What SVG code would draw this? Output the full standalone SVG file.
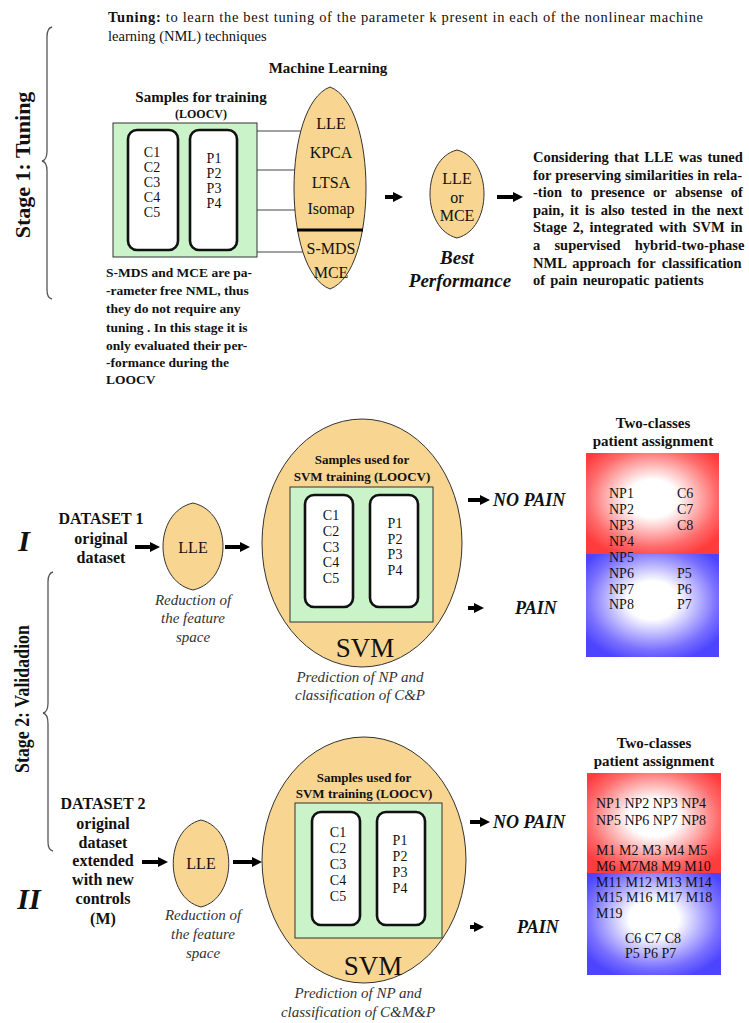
<svg xmlns="http://www.w3.org/2000/svg" width="749" height="1023" viewBox="0 0 749 1023">
  <defs>
    <style>
      text { font-family: "Liberation Serif", "Times New Roman", serif; fill: #111; }
      .b { font-weight: bold; }
      .bi { font-weight: bold; font-style: italic; }
      .it { font-style: italic; fill: #333; }
      .c { text-anchor: middle; dominant-baseline: central; }
      .l { dominant-baseline: central; }
      .lemon { fill: #f8d590; stroke: #333; stroke-width: 1; }
      .green { fill: #caf3ca; stroke: #333; stroke-width: 1; }
      .sample { fill: #fff; stroke: #111; stroke-width: 2.6; }
      .brace { fill: none; stroke: #555; stroke-width: 1.3; }
      .wire { stroke: #444; stroke-width: 1; }
      .arrow { stroke: #000; stroke-width: 4; marker-end: url(#head); }
      .cell { font-size: 14px; fill: #2b2b38; }
      .lbl { font-size: 16px; }
    </style>
    <marker id="head" viewBox="0 0 10 10" markerUnits="userSpaceOnUse" markerWidth="10" markerHeight="11" refX="2" refY="5" orient="auto">
      <path d="M0,0 L10,5 L0,10 Z" fill="#000"/>
    </marker>
    <radialGradient id="redGlow" cx="0.5" cy="0.45" r="0.62">
      <stop offset="0" stop-color="#ffffff"/>
      <stop offset="0.3" stop-color="#ffffff"/>
      <stop offset="0.78" stop-color="#ff6a6a"/>
      <stop offset="1" stop-color="#ff3c3c"/>
    </radialGradient>
    <radialGradient id="blueGlow" cx="0.5" cy="0.45" r="0.62">
      <stop offset="0" stop-color="#ffffff"/>
      <stop offset="0.3" stop-color="#ffffff"/>
      <stop offset="0.78" stop-color="#7a70ff"/>
      <stop offset="1" stop-color="#4c44ff"/>
    </radialGradient>
  </defs>

  <rect width="749" height="1023" fill="#fff"/>

  <!-- stage braces and labels -->
  <g id="stage1-label">
    <path class="brace" d="M52,27 Q47,28 47,37 L47,151 Q47,160 42,161 Q47,162 47,171 L47,290 Q47,298 52,299"/>
    <text class="b c" font-size="22" transform="translate(22,165) rotate(-90)">Stage 1: Tuning</text>
  </g>
  <g id="stage2-label">
    <path class="brace" d="M53,572 Q48,573 48,582 L48,703 Q48,712 43,713 Q48,714 48,724 L48,842 Q48,850 53,851"/>
    <text class="b c" font-size="21" textLength="148" lengthAdjust="spacingAndGlyphs" transform="translate(22,699) rotate(-90)">Stage 2: Validadion</text>
  </g>

  <!-- heading -->
  <g id="heading">
    <text x="108" y="22" font-size="14.5" textLength="595" lengthAdjust="spacing"><tspan class="b">Tuning:</tspan> to learn the best tuning of  the parameter k present in each of the nonlinear machine</text>
    <text x="108" y="41" font-size="14.5">learning (NML) techniques</text>
  </g>

  <!-- connectors -->
  <g id="connectors">
    <line class="wire" x1="257" y1="131" x2="320" y2="131"/>
    <line class="wire" x1="257" y1="170" x2="320" y2="170"/>
    <line class="wire" x1="257" y1="210" x2="320" y2="210"/>
    <line class="wire" x1="257" y1="252" x2="320" y2="252"/>
    <line class="arrow" x1="385" y1="197" x2="395" y2="197"/>
    <line class="arrow" x1="497" y1="197" x2="515" y2="197"/>
    <line class="arrow" x1="135" y1="547" x2="152" y2="547"/>
    <line class="arrow" x1="225" y1="547" x2="242" y2="547"/>
    <line class="arrow" x1="468" y1="500" x2="482" y2="500"/>
    <line class="arrow" x1="468" y1="608" x2="476" y2="608"/>
    <line class="arrow" x1="142" y1="862" x2="160" y2="862"/>
    <line class="arrow" x1="233" y1="862" x2="254" y2="862"/>
    <line class="arrow" x1="470" y1="822" x2="482" y2="822"/>
    <line class="arrow" x1="470" y1="927" x2="476" y2="927"/>
  </g>

  <!-- stage 1 training samples -->
  <g id="samples-training">
    <text class="b c" x="201" y="97" font-size="15">Samples for training</text>
    <text class="b c" x="201" y="114" font-size="12">(LOOCV)</text>
    <rect class="green" x="113" y="123" width="144" height="134"/>
    <rect class="sample" x="128" y="130" width="50" height="120" rx="9"/>
    <rect class="sample" x="190" y="130" width="47" height="120" rx="9"/>
    <g class="cell">
      <text class="c" x="152" y="152">C1</text>
      <text class="c" x="152" y="167">C2</text>
      <text class="c" x="152" y="182">C3</text>
      <text class="c" x="152" y="197">C4</text>
      <text class="c" x="152" y="212">C5</text>
      <text class="c" x="214" y="158">P1</text>
      <text class="c" x="214" y="173">P2</text>
      <text class="c" x="214" y="188">P3</text>
      <text class="c" x="214" y="203">P4</text>
    </g>
  </g>

  <g id="note-parameter-free" class="b" font-size="13.5">
    <text class="l" x="106" y="272">S-MDS and MCE are pa-</text>
    <text class="l" x="106" y="290">-rameter free NML, thus</text>
    <text class="l" x="106" y="308">they do not require any</text>
    <text class="l" x="106" y="327">tuning . In this stage it is</text>
    <text class="l" x="106" y="345">only evaluated their per-</text>
    <text class="l" x="106" y="362">-formance during the</text>
    <text class="l" x="106" y="379">LOOCV</text>
  </g>

  <!-- machine learning techniques -->
  <g id="machine-learning">
    <text class="b c" x="328" y="68" font-size="15">Machine Learning</text>
    <path class="lemon" d="M330,87 C378,105 378,271 330,289 C282,271 282,105 330,87 Z"/>
    <line x1="297" y1="230" x2="363" y2="230" stroke="#000" stroke-width="3"/>
    <text class="c lbl" x="331" y="123">LLE</text>
    <text class="c lbl" x="331" y="152">KPCA</text>
    <text class="c lbl" x="331" y="182">LTSA</text>
    <text class="c lbl" x="331" y="208">Isomap</text>
    <text class="c lbl" x="331" y="248">S-MDS</text>
    <text class="c lbl" x="331" y="272">MCE</text>
  </g>

  <g id="best-performance">
    <path class="lemon" d="M457,150 C493,159 493,229 457,238 C421,229 421,159 457,150 Z"/>
    <text class="c lbl" x="457" y="178">LLE</text>
    <text class="c lbl" x="457" y="197">or</text>
    <text class="c lbl" x="457" y="215">MCE</text>
    <text class="bi c" x="457" y="257" font-size="19">Best</text>
    <text class="bi c" x="460" y="280" font-size="19">Performance</text>
  </g>

  <!-- justified paragraph: word gaps widened line by line -->
  <g id="note-stage2" class="b" font-size="14.5">
    <text class="l" x="533" y="157" word-spacing="1.7">Considering that LLE was tuned</text>
    <text class="l" x="533" y="175" word-spacing="0.3">for preserving similarities in rela-</text>
    <text class="l" x="533" y="192" word-spacing="4.8">-tion to presence or absense of</text>
    <text class="l" x="533" y="210" word-spacing="2.4">pain, it is also tested in the next</text>
    <text class="l" x="533" y="227" word-spacing="2.3">Stage 2, integrated with SVM in</text>
    <text class="l" x="533" y="245" word-spacing="10.6">a supervised hybrid-two-phase</text>
    <text class="l" x="533" y="263" word-spacing="2.7">NML approach for classification</text>
    <text class="l" x="533" y="280" word-spacing="1.5">of pain neuropatic patients</text>
  </g>

  <!-- stage 2, dataset I -->
  <text class="bi c" x="24" y="540" font-size="30">I</text>
  <g id="dataset1" class="b" font-size="16">
    <text class="c" x="101" y="518">DATASET 1</text>
    <text class="c" x="101" y="538">original</text>
    <text class="c" x="101" y="557">dataset</text>
  </g>
  <g id="lle1">
    <path class="lemon" d="M193,503 C233,512 233,581 193,590 C153,581 153,512 193,503 Z"/>
    <text class="c lbl" x="193" y="547">LLE</text>
    <text class="it c" x="193" y="600" font-size="15">Reduction of</text>
    <text class="it c" x="193" y="618" font-size="15">the feature</text>
    <text class="it c" x="193" y="637" font-size="15">space</text>
  </g>
  <g id="svm1">
    <ellipse cx="362" cy="543" rx="100" ry="124" fill="#f8d590" stroke="#333"/>
    <text class="b c" x="362" y="459" font-size="13">Samples used for</text>
    <text class="b c" x="362" y="476" font-size="13">SVM training (LOOCV)</text>
    <rect class="green" x="290" y="487" width="143" height="135"/>
    <rect class="sample" x="305" y="495" width="48" height="112" rx="9"/>
    <rect class="sample" x="370" y="495" width="48" height="112" rx="9"/>
    <g class="cell">
      <text class="c" x="331" y="515">C1</text>
      <text class="c" x="331" y="531">C2</text>
      <text class="c" x="331" y="547">C3</text>
      <text class="c" x="331" y="562">C4</text>
      <text class="c" x="331" y="578">C5</text>
      <text class="c" x="395" y="523">P1</text>
      <text class="c" x="395" y="539">P2</text>
      <text class="c" x="395" y="554">P3</text>
      <text class="c" x="395" y="570">P4</text>
    </g>
    <text class="c" x="365" y="648" font-size="27">SVM</text>
    <text class="it c" x="360" y="677" font-size="15">Prediction of NP and</text>
    <text class="it c" x="360" y="695" font-size="15">classification of C&amp;P</text>
  </g>
  <text class="bi l" x="493" y="500" font-size="18">NO PAIN</text>
  <text class="bi l" x="515" y="608" font-size="18">PAIN</text>

  <g id="assignment1">
    <text class="b c" x="653" y="423" font-size="15">Two-classes</text>
    <text class="b c" x="653" y="441" font-size="15">patient assignment</text>
    <rect x="586" y="453" width="133" height="101" fill="url(#redGlow)"/>
    <rect x="586" y="554" width="133" height="103" fill="url(#blueGlow)"/>
    <g class="cell">
      <text class="l" x="609" y="493">NP1</text>
      <text class="l" x="609" y="509">NP2</text>
      <text class="l" x="609" y="525">NP3</text>
      <text class="l" x="609" y="541">NP4</text>
      <text class="l" x="609" y="557">NP5</text>
      <text class="l" x="609" y="573">NP6</text>
      <text class="l" x="609" y="589">NP7</text>
      <text class="l" x="609" y="604">NP8</text>
      <text class="l" x="677" y="493">C6</text>
      <text class="l" x="677" y="509">C7</text>
      <text class="l" x="677" y="525">C8</text>
      <text class="l" x="677" y="573">P5</text>
      <text class="l" x="677" y="589">P6</text>
      <text class="l" x="677" y="604">P7</text>
    </g>
  </g>

  <!-- stage 2, dataset II -->
  <text class="bi c" x="29" y="898" font-size="30">II</text>
  <g id="dataset2" class="b" font-size="16">
    <text class="c" x="103" y="803">DATASET 2</text>
    <text class="c" x="103" y="823">original</text>
    <text class="c" x="103" y="842">dataset</text>
    <text class="c" x="103" y="860">extended</text>
    <text class="c" x="103" y="879">with new</text>
    <text class="c" x="103" y="898">controls</text>
    <text class="c" x="103" y="918">(M)</text>
  </g>
  <g id="lle2">
    <path class="lemon" d="M201,820 C238,829 238,898 201,907 C164,898 164,829 201,820 Z"/>
    <text class="c lbl" x="201" y="863">LLE</text>
    <text class="it c" x="203" y="915" font-size="15">Reduction of</text>
    <text class="it c" x="203" y="934" font-size="15">the feature</text>
    <text class="it c" x="203" y="953" font-size="15">space</text>
  </g>
  <g id="svm2">
    <ellipse cx="364" cy="860" rx="102" ry="123" fill="#f8d590" stroke="#333"/>
    <text class="b c" x="364" y="777" font-size="13">Samples used for</text>
    <text class="b c" x="364" y="793" font-size="13">SVM training (LOOCV)</text>
    <rect class="green" x="295" y="803" width="147" height="135"/>
    <rect class="sample" x="312" y="812" width="48" height="113" rx="9"/>
    <rect class="sample" x="377" y="812" width="48" height="113" rx="9"/>
    <g class="cell">
      <text class="c" x="338" y="832">C1</text>
      <text class="c" x="338" y="848">C2</text>
      <text class="c" x="338" y="864">C3</text>
      <text class="c" x="338" y="880">C4</text>
      <text class="c" x="338" y="896">C5</text>
      <text class="c" x="400" y="840">P1</text>
      <text class="c" x="400" y="856">P2</text>
      <text class="c" x="400" y="872">P3</text>
      <text class="c" x="400" y="888">P4</text>
    </g>
    <text class="c" x="373" y="966" font-size="27">SVM</text>
    <text class="it c" x="358" y="993" font-size="15">Prediction of NP and</text>
    <text class="it c" x="358" y="1012" font-size="15">classification of C&amp;M&amp;P</text>
  </g>
  <text class="bi l" x="493" y="822" font-size="18">NO PAIN</text>
  <text class="bi l" x="517" y="927" font-size="18">PAIN</text>

  <g id="assignment2">
    <text class="b c" x="654" y="743" font-size="15">Two-classes</text>
    <text class="b c" x="654" y="761" font-size="15">patient assignment</text>
    <rect x="587" y="773" width="134" height="100" fill="url(#redGlow)"/>
    <rect x="587" y="873" width="134" height="102" fill="url(#blueGlow)"/>
    <g class="cell" font-size="13.5">
      <text class="l" x="596" y="803">NP1 NP2 NP3 NP4</text>
      <text class="l" x="596" y="820">NP5 NP6 NP7 NP8</text>
      <text class="l" x="596" y="850">M1 M2 M3 M4 M5</text>
      <text class="l" x="596" y="866">M6 M7M8 M9 M10</text>
      <text class="l" x="596" y="882">M11 M12 M13 M14</text>
      <text class="l" x="596" y="897">M15 M16 M17 M18</text>
      <text class="l" x="596" y="913">M19</text>
      <text class="l" x="625" y="938">C6 C7 C8</text>
      <text class="l" x="625" y="953">P5 P6 P7</text>
    </g>
  </g>
</svg>
